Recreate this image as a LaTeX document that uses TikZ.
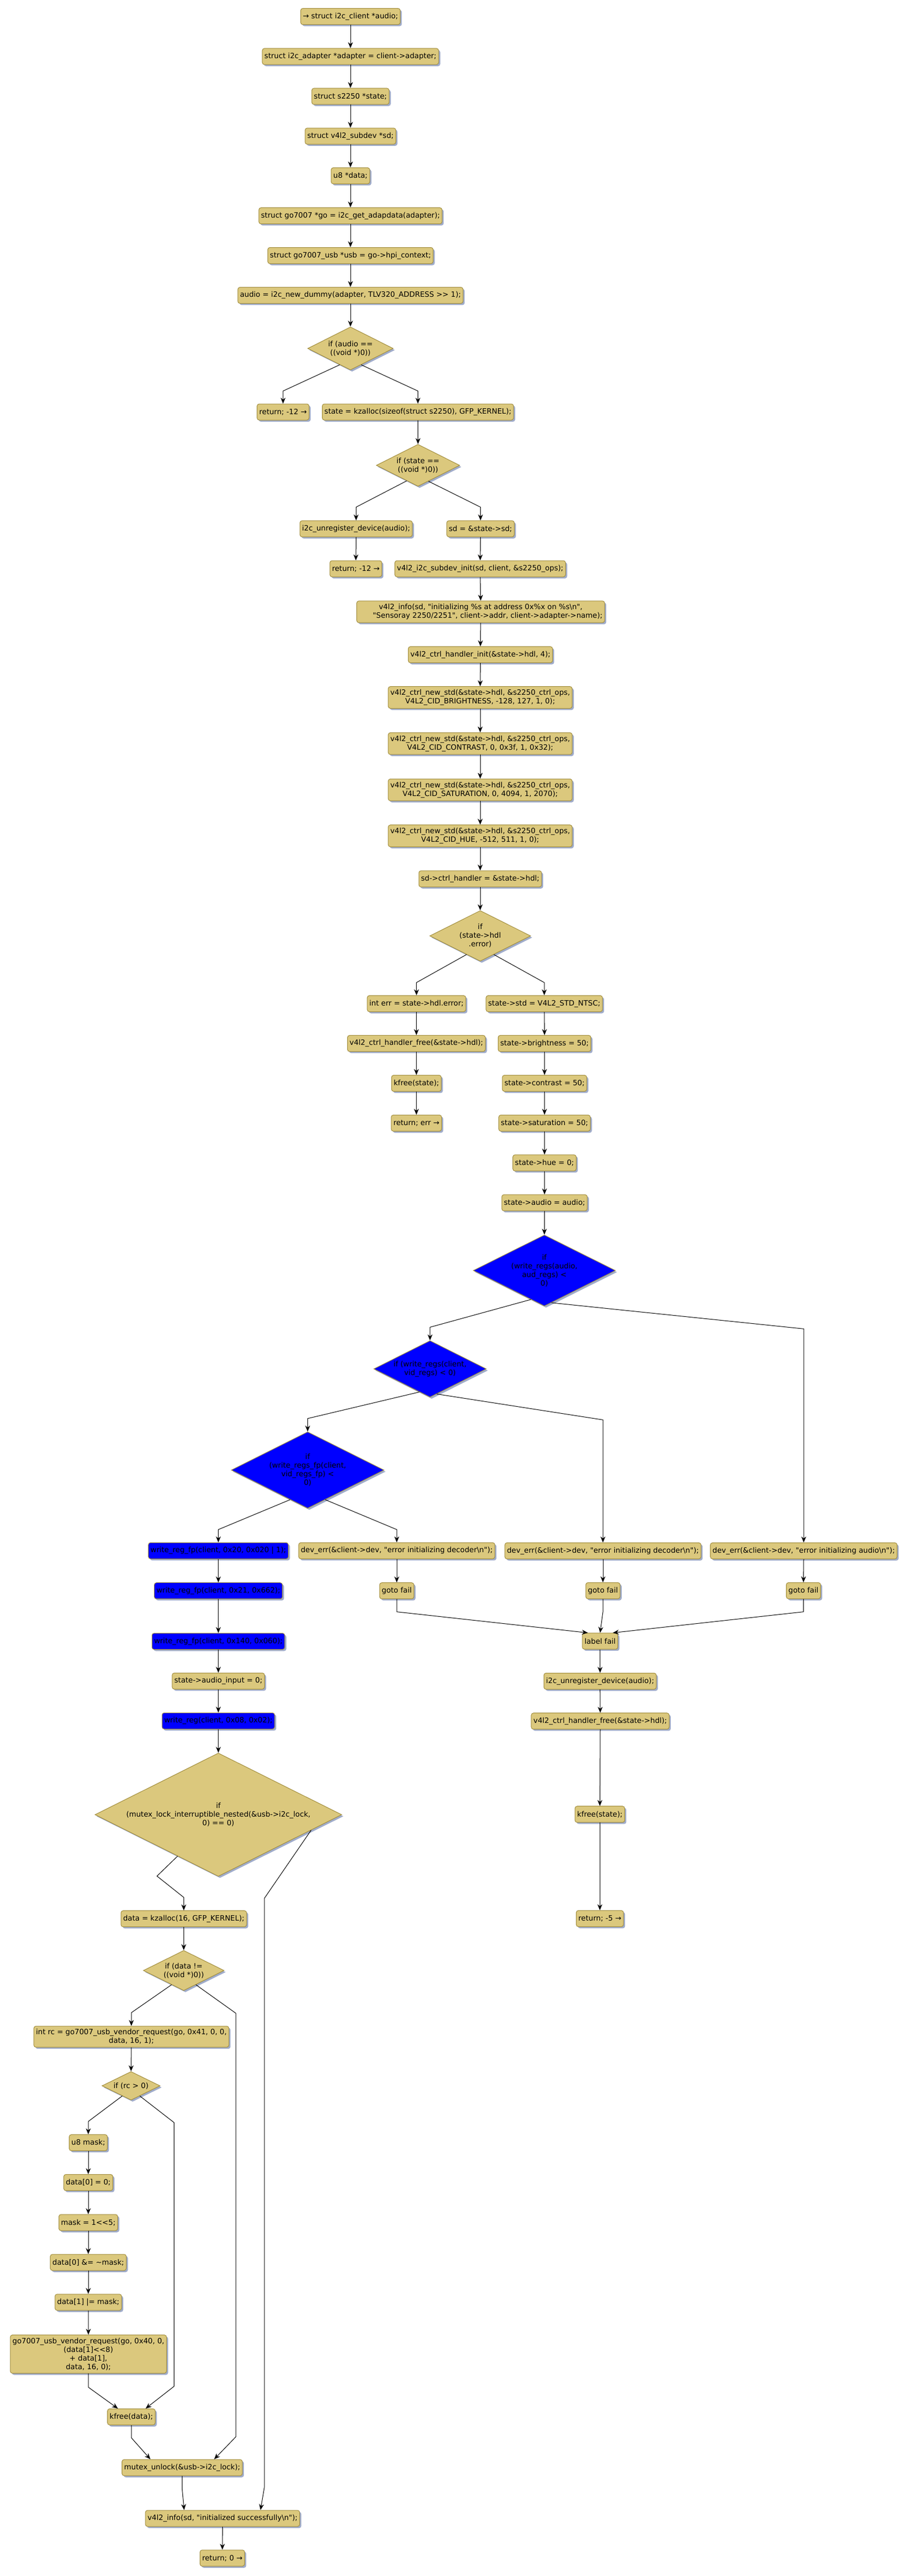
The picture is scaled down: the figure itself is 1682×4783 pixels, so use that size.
\documentclass[tikz,border=0pt]{standalone}
\usepackage{fontspec}
\setmainfont{DejaVu Sans}[Ligatures={TeXOff,CommonOff}]
\usetikzlibrary{shapes.geometric,arrows.meta,calc,shadows}
\definecolor{tanc}{RGB}{219,200,125}
\definecolor{bordc}{RGB}{160,140,60}
\definecolor{shadc}{RGB}{160,172,202}
\definecolor{bluec}{RGB}{0,0,255}
\newcommand\myfs{\fontsize{13.6pt}{16pt}\selectfont}
\tikzset{
  box/.style={draw=bordc, fill=tanc, rounded corners=4pt, line width=1pt,
    minimum height=30pt, inner xsep=4pt, inner ysep=5.5pt, align=center, font=\myfs,
    drop shadow={shadow xshift=3pt, shadow yshift=-3pt, fill=shadc, opacity=1}},
  bbox/.style={box, fill=bluec},
  dia/.style={diamond, draw=bordc, fill=tanc, line width=1pt, inner sep=0pt,
    shape aspect=2, align=center, font=\myfs,
    drop shadow={shadow xshift=3pt, shadow yshift=-3pt, fill=shadc, opacity=1}},
  bdia/.style={dia, fill=bluec},
  conn/.style={-{Stealth[length=11pt,width=9pt,inset=3.5pt]}, line width=1pt, black},
}
\begin{document}
\begin{tikzpicture}[x=1pt,y=-1pt]
\fill[white] (0,0) rectangle (1682,4783);
\useasboundingbox (0,0) rectangle (1682,4783);

% ---- top chain
\node[box] (n1) at (651,30.6) {→ struct i2c\_client *audio;};
\node[box] (n2) at (651,104.9) {struct i2c\_adapter *adapter = client->adapter;};
\node[box] (n3) at (651,178.9) {struct s2250 *state;};
\node[box] (n4) at (651,252.8) {struct v4l2\_subdev *sd;};
\node[box] (n5) at (651,326.4) {u8 *data;};
\node[box] (n6) at (651,400.7) {struct go7007 *go = i2c\_get\_adapdata(adapter);};
\node[box] (n7) at (651,474.5) {struct go7007\_usb *usb = go->hpi\_context;};
\node[box] (n8) at (651,548.4) {audio = i2c\_new\_dummy(adapter, TLV320\_ADDRESS >> 1);};
\node[dia, minimum width=159pt, minimum height=80pt] (d1) at (651,647) {if (audio ==\\((void *)0))};
\node[box] (r1) at (525.8,765) {return; -12 →};
\node[box] (s1) at (776.3,765) {state = kzalloc(sizeof(struct s2250), GFP\_KERNEL);};
\node[dia, minimum width=155pt, minimum height=78pt] (d2) at (776.5,864) {if (state ==\\((void *)0))};
\node[box] (u1) at (661.5,981.8) {i2c\_unregister\_device(audio);};
\node[box] (sd) at (892.6,981.8) {sd = \&state->sd;};
\node[box] (r2) at (661,1056) {return; -12 →};
\node[box] (v1) at (892,1056) {v4l2\_i2c\_subdev\_init(sd, client, \&s2250\_ops);};
\node[box] (v2) at (892.9,1136) {v4l2\_info(sd, "initializing \%s at address 0x\%x on \%s\textbackslash n",\\\hspace*{26pt}"Sensoray 2250/2251", client->addr, client->adapter->name);};
\node[box] (h1) at (892.4,1215.6) {v4l2\_ctrl\_handler\_init(\&state->hdl, 4);};
\node[box] (c1) at (892,1295) {v4l2\_ctrl\_new\_std(\&state->hdl, \&s2250\_ctrl\_ops,\\V4L2\_CID\_BRIGHTNESS, -128, 127, 1, 0);};
\node[box] (c2) at (892,1380.7) {v4l2\_ctrl\_new\_std(\&state->hdl, \&s2250\_ctrl\_ops,\\V4L2\_CID\_CONTRAST, 0, 0x3f, 1, 0x32);};
\node[box] (c3) at (892,1466.6) {v4l2\_ctrl\_new\_std(\&state->hdl, \&s2250\_ctrl\_ops,\\V4L2\_CID\_SATURATION, 0, 4094, 1, 2070);};
\node[box] (c4) at (892,1552) {v4l2\_ctrl\_new\_std(\&state->hdl, \&s2250\_ctrl\_ops,\\V4L2\_CID\_HUE, -512, 511, 1, 0);};
\node[box] (ch) at (892,1631.8) {sd->ctrl\_handler = \&state->hdl;};
\node[dia, minimum width=187.5pt, minimum height=94pt] (d3) at (892,1737.7) {if\\(state->hdl\\.error)};
\node[box] (e1) at (773.7,1863.5) {int err = state->hdl.error;};
\node[box] (st1) at (1011,1863.5) {state->std = V4L2\_STD\_NTSC;};
\node[box] (e2) at (773.5,1937.4) {v4l2\_ctrl\_handler\_free(\&state->hdl);};
\node[box] (st2) at (1011.5,1937.4) {state->brightness = 50;};
\node[box] (e3) at (773.5,2011.4) {kfree(state);};
\node[box] (st3) at (1011.5,2011.4) {state->contrast = 50;};
\node[box] (e4) at (773.5,2085.3) {return; err →};
\node[box] (st4) at (1011.5,2085.3) {state->saturation = 50;};
\node[box] (st5) at (1011.5,2159.2) {state->hue = 0;};
\node[box] (st6) at (1011.5,2233.2) {state->audio = audio;};
\node[bdia, minimum width=264pt, minimum height=132pt] (B1) at (1011.2,2359) {if\\(write\_regs(audio,\\aud\_regs) <\\0)};
\node[bdia, minimum width=209pt, minimum height=105pt] (B2) at (798.8,2541.7) {if (write\_regs(client,\\vid\_regs) < 0)};
\node[bdia, minimum width=283.6pt, minimum height=142pt] (B3) at (571.5,2729.5) {if\\(write\_regs\_fp(client,\\vid\_regs\_fp) <\\0)};
\node[bbox] (W1) at (405.6,2879.3) {write\_reg\_fp(client, 0x20, 0x020 | 1);};
\node[box] (DE1) at (737,2879.3) {dev\_err(\&client->dev, "error initializing decoder\textbackslash n");};
\node[box] (DE2) at (1120,2879.5) {dev\_err(\&client->dev, "error initializing decoder\textbackslash n");};
\node[box] (DE3) at (1493,2879.5) {dev\_err(\&client->dev, "error initializing audio\textbackslash n");};
\node[bbox] (W2) at (405.6,2953.7) {write\_reg\_fp(client, 0x21, 0x662);};
\node[box] (G1) at (737,2953.7) {goto fail};
\node[box] (G2) at (1120,2953.5) {goto fail};
\node[box] (G3) at (1492.5,2953.5) {goto fail};
\node[bbox] (W3) at (405.6,3047.5) {write\_reg\_fp(client, 0x140, 0x060);};
\node[box] (LF) at (1114.7,3047.2) {label fail};
\node[box] (AI) at (405.6,3121.3) {state->audio\_input = 0;};
\node[box] (U2) at (1114.7,3121.5) {i2c\_unregister\_device(audio);};
\node[bbox] (W4) at (405.6,3195.3) {write\_reg(client, 0x08, 0x02);};
\node[box] (HF) at (1115,3195.7) {v4l2\_ctrl\_handler\_free(\&state->hdl);};
\node[dia, minimum width=458.5pt, minimum height=229pt] (ML) at (405.6,3369.4) {if\\(mutex\_lock\_interruptible\_nested(\&usb->i2c\_lock,\\0) == 0)};
\node[box] (KF) at (1114.3,3368.7) {kfree(state);};
\node[box] (DK) at (341.4,3562.6) {data = kzalloc(16, GFP\_KERNEL);};
\node[box] (RT5) at (1114.3,3562.3) {return; -5 →};
\node[dia, minimum width=150pt, minimum height=74.6pt] (DD) at (341.3,3658.7) {if (data !=\\((void *)0))};
\node[box] (RC) at (244,3781.6) {int rc = go7007\_usb\_vendor\_request(go, 0x41, 0, 0,\\data, 16, 1);};
\node[dia, minimum width=108pt, minimum height=53pt] (DR) at (243.4,3872.8) {if (rc > 0)};
\node[box] (M1) at (164,3978.4) {u8 mask;};
\node[box] (M2) at (164,4052.4) {data[0] = 0;};
\node[box] (M3) at (164,4126.7) {mask = 1<<5;};
\node[box] (M4) at (164,4200.7) {data[0] \&= \textasciitilde{}mask;};
\node[box] (M5) at (164,4274.7) {data[1] |= mask;};
\node[box] (VR) at (164.2,4371) {go7007\_usb\_vendor\_request(go, 0x40, 0,\\(data[1]<<8)\\+ data[1],\\data, 16, 0);};
\node[box] (KD) at (244,4487.5) {kfree(data);};
\node[box] (MU) at (338.4,4581.7) {mutex\_unlock(\&usb->i2c\_lock);};
\node[box] (VI) at (413.4,4676) {v4l2\_info(sd, "initialized successfully\textbackslash n");};
\node[box] (RT0) at (413,4749.7) {return; 0 →};

% ---- straight connectors
\foreach \a/\b in {n1/n2,n2/n3,n3/n4,n4/n5,n5/n6,n6/n7,n7/n8,n8/d1,s1/d2,u1/r2,sd/v1,v1/v2,v2/h1,h1/c1,c1/c2,c2/c3,c3/c4,c4/ch,ch/d3,
  e1/e2,e2/e3,e3/e4,st1/st2,st2/st3,st3/st4,st4/st5,st5/st6,st6/B1,W1/W2,W2/W3,W3/AI,AI/W4,W4/ML,
  DE1/G1,DE2/G2,DE3/G3,LF/U2,U2/HF,HF/KF,KF/RT5,DK/DD,RC/DR,M1/M2,M2/M3,M3/M4,M4/M5,M5/VR,VI/RT0}
  \draw[conn] (\a.south) -- (\b.north);

% ---- branch connectors
\draw[conn] ($(d1.south)!0.25!(d1.west)$) -- (r1.north |- 0,726) -- (r1.north);
\draw[conn] ($(d1.south)!0.25!(d1.east)$) -- (s1.north |- 0,726) -- (s1.north);
\draw[conn] ($(d2.south)!0.27!(d2.west)$) -- (u1.north |- 0,941.6) -- (u1.north);
\draw[conn] ($(d2.south)!0.25!(d2.east)$) -- (sd.north |- 0,941.6) -- (sd.north);
\draw[conn] ($(d3.south)!0.27!(d3.west)$) -- (e1.north |- 0,1824.3) -- (e1.north);
\draw[conn] ($(d3.south)!0.27!(d3.east)$) -- (st1.north |- 0,1824.3) -- (st1.north);
\draw[conn] ($(B1.south)!0.19!(B1.west)$) -- (B2.north |- 0,2464.3) -- (B2.north);
\draw[conn] ($(B1.south)!0.10!(B1.east)$) -- (DE3.north |- 0,2467.3) -- (DE3.north);
\draw[conn] ($(B2.south)!0.19!(B2.west)$) -- (B3.north |- 0,2633.8) -- (B3.north);
\draw[conn] ($(B2.south)!0.12!(B2.east)$) -- (DE2.north |- 0,2636.3) -- (DE2.north);
\draw[conn] ($(B3.south)!0.23!(B3.west)$) -- (W1.north |- 0,2840) -- (W1.north);
\draw[conn] ($(B3.south)!0.23!(B3.east)$) -- (DE1.north |- 0,2840) -- (DE1.north);
\draw[conn] (G1.south) -- (G1.south |- 0,2992.7) -- ($(LF.north)+(-22.7,0)$);
\draw[conn] (G2.south) -- (G2.south |- 0,2993) -- (LF.north);
\draw[conn] (G3.south) -- (G3.south |- 0,2992.7) -- ($(LF.north)+(23.7,0)$);
\coordinate (mlb) at (291.6,3483.4);
\coordinate (mlc) at (341.3,3522.9);
\draw[conn] ($(ML.south)!0.33!(ML.west)$) -- (mlb) -- (mlc) -- (DK.north);
\coordinate (mra) at (491,3524.8);
\coordinate (mrb) at (491,4618.8);
\draw[conn] ($(ML.south)!0.75!(ML.east)$) -- (mra) -- (mrb) -- ($(VI.north)+(70.5,0)$);
\draw[conn] ($(DD.south)!0.3!(DD.west)$) -- (RC.north |- 0,3737) -- (RC.north);
\coordinate (dra) at (438,3738);
\coordinate (drb) at (438,4524.6);
\draw[conn] ($(DD.south)!0.3!(DD.east)$) -- (dra) -- (drb) -- ($(MU.north)+(59.4,0)$);
\draw[conn] ($(DR.south)!0.3!(DR.west)$) -- (M1.north |- 0,3939) -- (M1.north);
\coordinate (rra) at (323.3,3941);
\coordinate (rrb) at (323.3,4430.8);
\draw[conn] ($(DR.south)!0.3!(DR.east)$) -- (rra) -- (rrb) -- ($(KD.north)+(26.5,0)$);
\draw[conn] (VR.south) -- (VR.south |- 0,4432.5) -- ($(KD.north)+(-25,0)$);
\draw[conn] (KD.south) -- (KD.south |- 0,4526.3) -- ($(MU.north)+(-59,0)$);
\draw[conn] (MU.south) -- (MU.south |- 0,4620.5) -- ($(VI.north)+(-71.4,0)$);
\end{tikzpicture}
\end{document}
